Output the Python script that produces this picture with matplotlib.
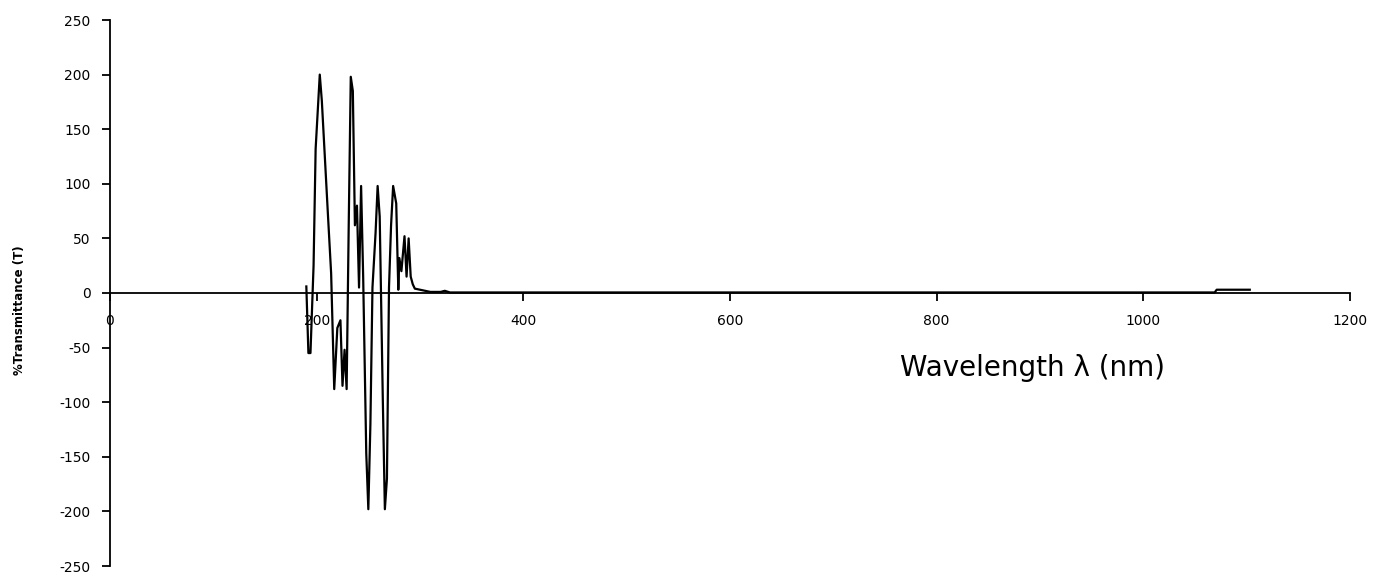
import matplotlib.pyplot as plt

plt.rcParams['font.family'] = ['DejaVu Sans']
plt.rcParams['axes.unicode_minus'] = False

# Spectrum (wavelength in nm, %T)
wavelength = [190, 192, 194, 197, 199, 203, 205, 208, 211, 214,
              217, 220, 223, 225, 227, 229, 231, 233, 235, 237,
              239, 241, 243, 245, 248, 250, 252, 254, 257, 259,
              261, 264, 266, 268, 270, 272, 274, 277, 279, 280,
              282, 285, 287, 289, 291, 293, 295, 300, 310, 320,
              324, 329, 500, 700, 900, 1069, 1071, 1103]
transmittance = [6, -55, -55, 25, 132, 200, 176, 123, 70, 18,
                 -88, -32, -25, -85, -52, -88, 61, 198, 185, 62,
                 80, 5, 98, 15, -147, -198, -120, 5, 55, 98,
                 70, -97, -198, -170, 5, 62, 98, 82, 3, 32,
                 20, 52, 15, 50, 15, 8, 4, 3, 1, 1,
                 2, 0.5, 0.5, 0.5, 0.5, 0.5, 3, 3]

x_ticks = [0, 200, 400, 600, 800, 1000, 1200]
y_ticks = [-250, -200, -150, -100, -50, 0, 50, 100, 150, 200, 250]

fig = plt.figure(figsize=(13.78, 5.73), dpi=100)
ax = fig.add_axes([110 / 1378, 1 - 566 / 573, 1240 / 1378, 546 / 573])

ax.plot(wavelength, transmittance, color='black', lw=1.6)

ax.set_xlim(0, 1200)
ax.set_ylim(-250, 250)
ax.set_xticks(x_ticks)
ax.set_yticks(y_ticks)

# x axis goes through zero, no box
ax.spines['bottom'].set_position(('data', 0))
ax.spines['top'].set_visible(False)
ax.spines['right'].set_visible(False)
ax.spines['left'].set_linewidth(1.3)
ax.spines['bottom'].set_linewidth(1.3)

ax.tick_params(axis='both', direction='out', length=6, width=1.3, labelsize=10)
ax.tick_params(axis='x', pad=9)
ax.tick_params(axis='y', pad=8)

fig.text(20 / 1378, 1 - 310 / 573, '%Transmittance (T)', rotation=90,
         ha='center', va='center', fontsize=8.5, fontweight='bold')
fig.text(1032 / 1378, 1 - 368 / 573, 'Wavelength \u03bb (nm)',
         ha='center', va='center', fontsize=20)

fig.savefig('out.png', dpi=100)
